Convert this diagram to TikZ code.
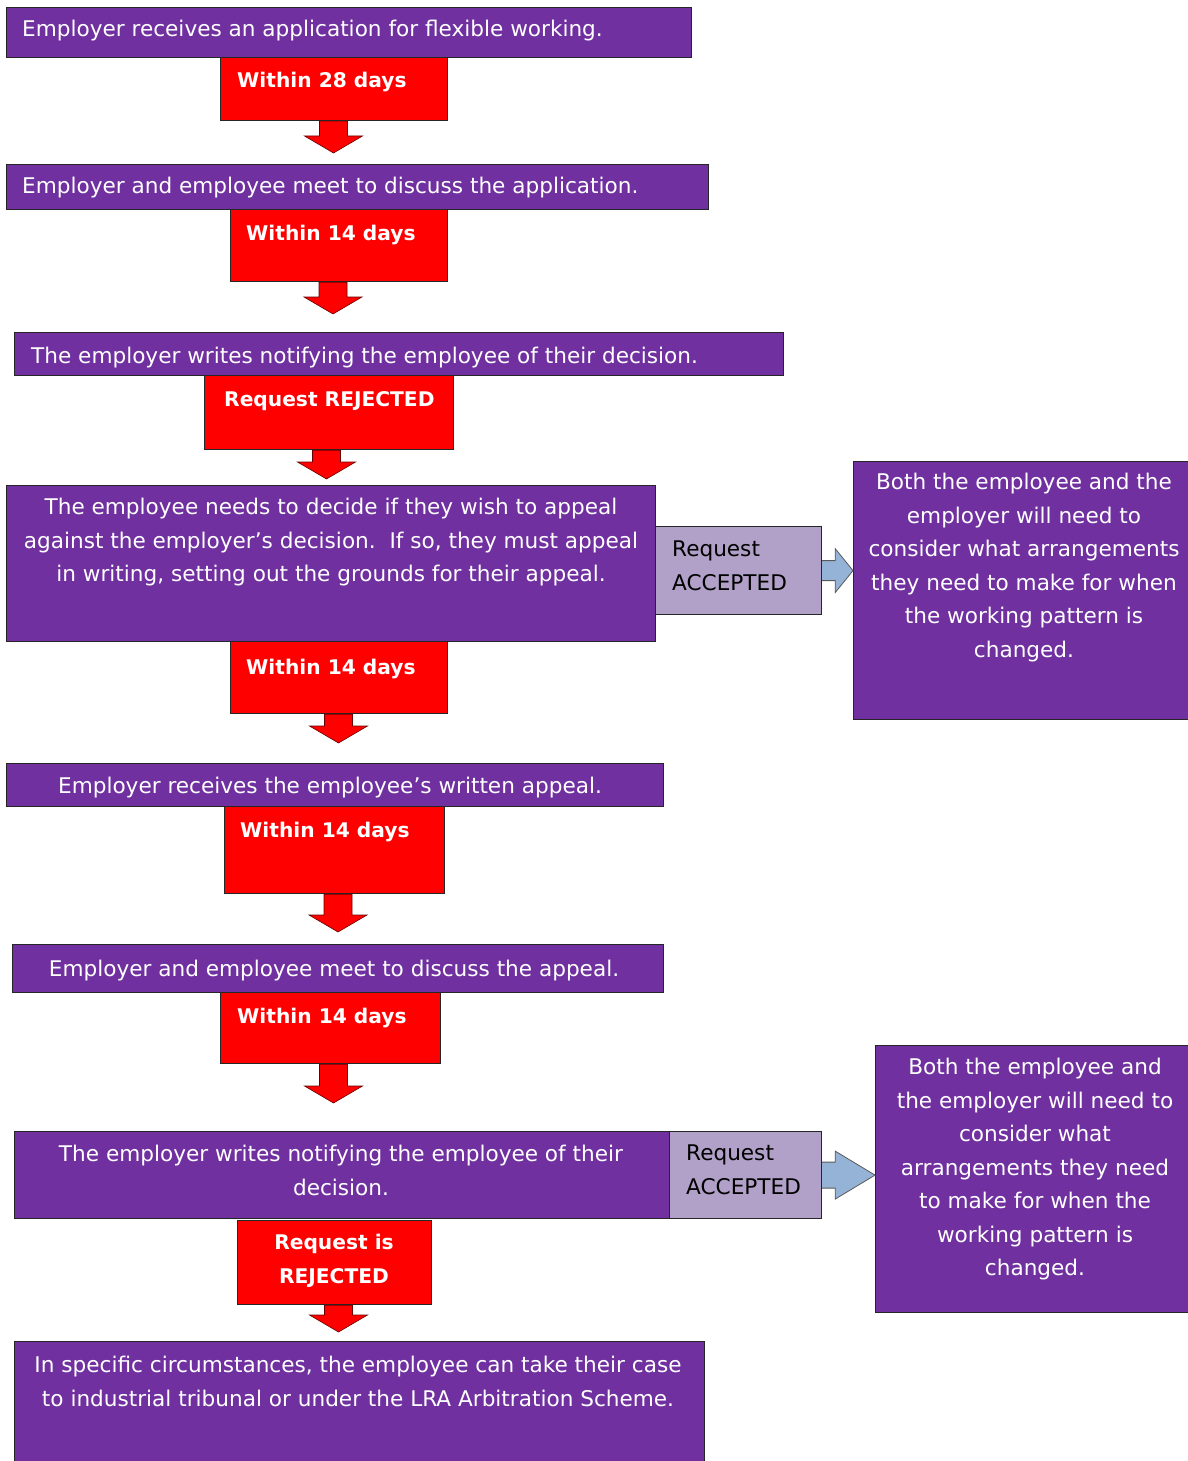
\documentclass[tikz,border=0pt]{standalone}
\usepackage{fontspec}
\setmainfont{DejaVu Sans}
\usetikzlibrary{calc}
\definecolor{purp}{HTML}{7030A0}
\definecolor{lav}{HTML}{B1A0C7}
\definecolor{arrowblue}{HTML}{95B3D7}
\tikzset{
  box/.style={draw=black!85, line width=1.2pt, anchor=north west, inner sep=0pt},
  pbox/.style={box, fill=purp},
  rbox/.style={box, fill=red},
  abox/.style={box, fill=lav},
  wtxt/.style={text=white, inner sep=0pt, font=\fontsize{21.6}{33.5}\selectfont},
  btxt/.style={wtxt, font=\fontsize{20.2}{33.5}\selectfont\bfseries},
  ktxt/.style={wtxt, text=black},
  redarrow/.style={fill=red, draw=red!40!black, line width=0.6pt},
  bluearrow/.style={fill=arrowblue, draw=black!65, line width=0.8pt}
}
\newcommand{\boxat}[6]{\node[#2, minimum width={#5-#3}, minimum height={#6-#4}] (#1) at (#3,#4) {};}
\begin{document}
\begin{tikzpicture}[x=1pt,y=-1pt]
\useasboundingbox (0,0) rectangle (1187,1461);
% boxes
\boxat{p1}{pbox}{6}{7}{691}{57}
\boxat{r1}{rbox}{220}{57}{447}{120}
\boxat{p2}{pbox}{6}{164}{708}{209}
\boxat{r2}{rbox}{230}{209}{447}{281}
\boxat{p3}{pbox}{14}{332}{783}{375}
\boxat{r3}{rbox}{204}{375}{453}{449}
\boxat{a1}{abox}{655}{526}{821}{614}
\boxat{p4}{pbox}{6}{485}{655}{641}
\boxat{s1}{pbox}{853}{461}{1192}{719}
\boxat{r4}{rbox}{230}{641}{447}{713}
\boxat{p5}{pbox}{6}{763}{663}{806}
\boxat{r5}{rbox}{224}{806}{444}{893}
\boxat{p6}{pbox}{12}{944}{663}{992}
\boxat{r6}{rbox}{220}{992}{440}{1063}
\boxat{a2}{abox}{669}{1131}{821}{1218}
\boxat{p7}{pbox}{14}{1131}{669}{1218}
\boxat{s2}{pbox}{875}{1045}{1192}{1312}
\boxat{r7}{rbox}{237}{1220}{431}{1304}
\boxat{p8}{pbox}{14}{1341}{704}{1470}
% texts
\node[wtxt, anchor=north west] (t1) at (22,20) {Employer receives an application for flexible working.};
\node[btxt, anchor=north west] (w1) at (237,72) {Within 28 days};
\node[wtxt, anchor=north west] (t2) at (22,177) {Employer and employee meet to discuss the application.};
\node[btxt, anchor=north west] (w2) at (246,225) {Within 14 days};
\node[wtxt, anchor=north west] (t3) at (31,347) {The employer writes notifying the employee of their decision.};
\node[btxt, anchor=north west] (w3) at (224,391) {Request REJECTED};
\node[wtxt, anchor=north, align=center] (t4) at (331,498) {The employee needs to decide if they wish to appeal\\against the employer’s decision.\ \ If so, they must appeal\\in writing, setting out the grounds for their appeal.};
\node[ktxt, anchor=north west, align=left] (k1) at (672,541) {Request\\ACCEPTED};
\node[wtxt, anchor=north, align=center] (u1) at (1024,473) {Both the employee and the\\employer will need to\\consider what arrangements\\they need to make for when\\the working pattern is\\changed.};
\node[btxt, anchor=north west] (w4) at (246,659) {Within 14 days};
\node[wtxt, anchor=north] (t5) at (330,777) {Employer receives the employee’s written appeal.};
\node[btxt, anchor=north west] (w5) at (240,822) {Within 14 days};
\node[wtxt, anchor=north] (t6) at (334,960) {Employer and employee meet to discuss the appeal.};
\node[btxt, anchor=north west] (w6) at (237,1008) {Within 14 days};
\node[wtxt, anchor=north, align=center] (t7) at (341,1145) {The employer writes notifying the employee of their\\decision.};
\node[ktxt, anchor=north west, align=left] (k2) at (686,1145) {Request\\ACCEPTED};
\node[wtxt, anchor=north, align=center] (u2) at (1035,1058) {Both the employee and\\the employer will need to\\consider what\\arrangements they need\\to make for when the\\working pattern is\\changed.};
\node[btxt, anchor=north, align=center] (w7) at (334,1234) {Request is\\REJECTED};
\node[wtxt, anchor=north, align=center] (t8) at (358,1356) {In specific circumstances, the employee can take their case\\to industrial tribunal or under the LRA Arbitration Scheme.};
% red block arrows
\foreach \a/\b/\x/\g in {r1/p2/333.5/11, r2/p3/333/18, r3/p4/326.5/6, r4/p5/338.5/20, r5/p6/338/12, r6/p7/333.5/28, r7/p8/338.5/9} {
  \coordinate (ax) at (\x,0);
  \coordinate (atop) at (\a.south -| ax);
  \path (\b.north -| ax) ++(0,-\g) coordinate (atip);
  \draw[redarrow] ([xshift=-14pt]atop) -- ([xshift=-14pt,yshift=17pt]atip) -- ([xshift=-29pt,yshift=17pt]atip) -- (atip)
    -- ([xshift=29pt,yshift=17pt]atip) -- ([xshift=14pt,yshift=17pt]atip) -- ([xshift=14pt]atop) -- cycle;
}
% blue block arrows
\foreach \a/\b/\h/\H in {a1/s1/10/22, a2/s2/13/24} {
  \coordinate (bs) at (\a.east);
  \coordinate (bt) at (\b.west |- bs);
  \draw[bluearrow] ([yshift=\h pt]bs) -- ([xshift=13pt,yshift=\h pt]bs) -- ([xshift=13pt,yshift=\H pt]bs) -- (bt)
    -- ([xshift=13pt,yshift=-\H pt]bs) -- ([xshift=13pt,yshift=-\h pt]bs) -- ([yshift=-\h pt]bs);
}
\end{tikzpicture}
\end{document}
